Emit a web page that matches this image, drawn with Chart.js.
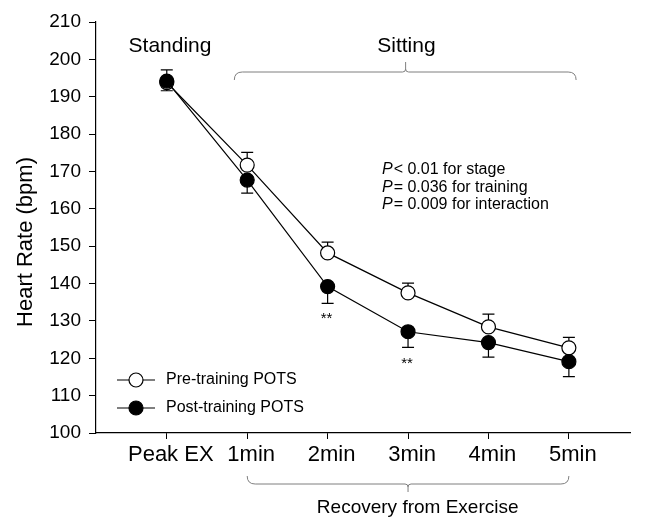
<!DOCTYPE html>
<html>
<head>
<meta charset="utf-8">
<script src="https://cdn.jsdelivr.net/npm/chart.js@4"></script>
<style>
  html, body { margin: 0; padding: 0; background: #fff; }
  #wrap { width: 653px; height: 519px; }
</style>
</head>
<body>
<div id="wrap"><canvas id="lineChart" width="653" height="519"></canvas></div>
<script>
/************************ DATA  ************************** */
const stages = ["Peak EX", "1min", "2min", "3min", "4min", "5min"];
const yTicks = [100, 110, 120, 130, 140, 150, 160, 170, 180, 190, 200, 210];

const preTraining = [193.8, 171.7, 148.2, 137.5, 128.4, 122.8];
const preTrainingErr = [3.4, 3.4, 2.9, 2.6, 3.4, 2.8];
const postTraining = [194.2, 167.7, 139.2, 127.1, 124.2, 119.1];
const postTrainingErr = [2.6, 3.5, 4.5, 4.2, 3.9, 4.0];

const pvalueLines = [
  ["P", "< 0.01 for stage"],
  ["P", "= 0.036 for training"],
  ["P", "= 0.009 for interaction"],
];
const starStages = [2, 3];
const starValues = [131, 119];

const FONT = "Arial, 'Liberation Sans', sans-serif";

/************************ PLUGINS  ************************** */
// error bars: pre goes up, post goes down
const errorBars = {
  id: "errorBars",
  beforeDatasetsDraw(chart) {
    const { ctx, scales } = chart;
    const x = scales.x, y = scales.y;
    ctx.save();
    ctx.strokeStyle = "#000";
    ctx.lineWidth = 1.2;
    const cap = 6;
    const draw = (vals, errs, dir) => {
      for (let i = 0; i < vals.length; i++) {
        const px = x.getPixelForValue(i);
        const p0 = y.getPixelForValue(vals[i]);
        const p1 = y.getPixelForValue(vals[i] + dir * errs[i]);
        ctx.beginPath();
        ctx.moveTo(px, p0);
        ctx.lineTo(px, p1);
        ctx.moveTo(px - cap, p1);
        ctx.lineTo(px + cap, p1);
        ctx.stroke();
      }
    };
    draw(preTraining, preTrainingErr, 1);
    draw(postTraining, postTrainingErr, -1);
    ctx.restore();
  },
};

function bracket(ctx, x0, x1, xm, yLine, yEnd, yTip) {
  const r = Math.abs(yEnd - yLine);
  const s = Math.sign(yTip - yLine);
  ctx.beginPath();
  ctx.moveTo(x0, yEnd);
  ctx.quadraticCurveTo(x0, yLine, x0 + r, yLine);
  ctx.lineTo(xm - 3, yLine);
  ctx.quadraticCurveTo(xm, yLine, xm, yLine + s * 3);
  ctx.lineTo(xm, yTip);
  ctx.moveTo(xm, yLine + s * 3);
  ctx.quadraticCurveTo(xm, yLine, xm + 3, yLine);
  ctx.lineTo(x1 - r, yLine);
  ctx.quadraticCurveTo(x1, yLine, x1, yEnd);
  ctx.stroke();
}

const annotations = {
  id: "annotations",
  afterDraw(chart) {
    const { ctx, scales } = chart;
    const x = scales.x, y = scales.y;
    ctx.save();
    ctx.fillStyle = "#000";
    ctx.textAlign = "center";
    ctx.textBaseline = "middle";

    // y axis title (sits a bit below the axis middle)
    ctx.save();
    ctx.translate(32, 242);
    ctx.rotate(-Math.PI / 2);
    ctx.textBaseline = "alphabetic";
    ctx.font = "22px " + FONT;
    ctx.fillText("Heart Rate (bpm)", 0, 0);
    ctx.restore();

    // stage labels
    ctx.font = "21px " + FONT;
    ctx.fillText("Standing", x.getPixelForValue(0.04), 46);
    ctx.fillText("Sitting", x.getPixelForValue(2.98), 46);

    // brackets
    ctx.strokeStyle = "#7f7f7f";
    ctx.lineWidth = 1;
    bracket(ctx, x.getPixelForValue(0.84), x.getPixelForValue(5.09),
      x.getPixelForValue(2.97), 72, 80, 62);
    bracket(ctx, x.getPixelForValue(1), x.getPixelForValue(5),
      x.getPixelForValue(3), 484, 476, 492);

    ctx.font = "19px " + FONT;
    ctx.fillText("Recovery from Exercise", x.getPixelForValue(3.12), 508);

    // significance stars
    ctx.font = "15px " + FONT;
    for (let i = 0; i < starStages.length; i++) {
      ctx.fillText("**", x.getPixelForValue(starStages[i]) - 1, y.getPixelForValue(starValues[i]) + 2);
    }

    // p values
    ctx.textAlign = "left";
    const px0 = 382;
    pvalueLines.forEach((ln, i) => {
      const py = 170 + i * 17.5;
      ctx.font = "italic 16px " + FONT;
      ctx.fillText(ln[0], px0, py);
      const w = ctx.measureText(ln[0]).width;
      ctx.font = "16px " + FONT;
      ctx.fillText(ln[1], px0 + w + 1, py);
    });

    // legend
    const items = [
      { label: "Pre-training POTS", fill: "#fff", y: 380 },
      { label: "Post-training POTS", fill: "#000", y: 408 },
    ];
    items.forEach((it) => {
      ctx.strokeStyle = "#000";
      ctx.lineWidth = 1.2;
      ctx.beginPath();
      ctx.moveTo(117, it.y);
      ctx.lineTo(155, it.y);
      ctx.stroke();
      ctx.beginPath();
      ctx.arc(136, it.y, 7, 0, Math.PI * 2);
      ctx.fillStyle = it.fill;
      ctx.fill();
      ctx.stroke();
      ctx.fillStyle = "#000";
      ctx.font = "16px " + FONT;
      ctx.fillText(it.label, 166, it.y);
    });
    ctx.restore();
  },
};

/************************ CHART  ************************** */
const ctx = document.getElementById("lineChart");
const config = {
  type: "line",
  data: {
    datasets: [
      {
        label: "Post-training POTS",
        data: postTraining.map((v, i) => ({ x: i, y: v })),
        borderColor: "#000",
        borderWidth: 1.2,
        pointRadius: 7,
        pointBorderWidth: 1.2,
        pointBackgroundColor: "#000",
        pointBorderColor: "#000",
        tension: 0,
        order: 0,
      },
      {
        label: "Pre-training POTS",
        data: preTraining.map((v, i) => ({ x: i, y: v })),
        borderColor: "#000",
        borderWidth: 1.2,
        pointRadius: 7,
        pointBorderWidth: 1.2,
        pointBackgroundColor: "#fff",
        pointBorderColor: "#000",
        tension: 0,
        order: 1,
      },
    ],
  },
  options: {
    responsive: false,
    animation: false,
    events: [],
    layout: { padding: { top: 22, right: 23, left: 0, bottom: 0 } },
    scales: {
      x: {
        type: "linear",
        min: -0.88,
        max: 5.76,
        afterBuildTicks: (s) => {
          s.ticks = stages.map((_, i) => ({ value: i }));
        },
        afterFit: (s) => {
          s.height = 86;
        },
        grid: {
          drawOnChartArea: false,
          color: "#000",
          tickLength: 6,
          tickWidth: 1,
        },
        border: { color: "#000", width: 1.2 },
        ticks: {
          color: "#000",
          font: { family: FONT, size: 22 },
          padding: 3,
          labelOffset: 4,
          maxRotation: 0,
          autoSkip: false,
          callback: (v) => stages[v],
        },
      },
      y: {
        min: 100,
        max: 210,
        afterBuildTicks: (s) => {
          s.ticks = yTicks.map((v) => ({ value: v }));
        },
        afterFit: (s) => {
          s.width = 96;
        },
        grid: {
          drawOnChartArea: false,
          color: "#000",
          tickLength: 7,
          tickWidth: 1,
        },
        border: { color: "#000", width: 1.2 },
        ticks: {
          color: "#000",
          font: { family: FONT, size: 19 },
          padding: 8,
        },
      },
    },
    plugins: {
      legend: { display: false },
      tooltip: { enabled: false },
    },
  },
  plugins: [errorBars, annotations],
};

let myLineChart = new Chart(ctx, config);
</script>
</body>
</html>
